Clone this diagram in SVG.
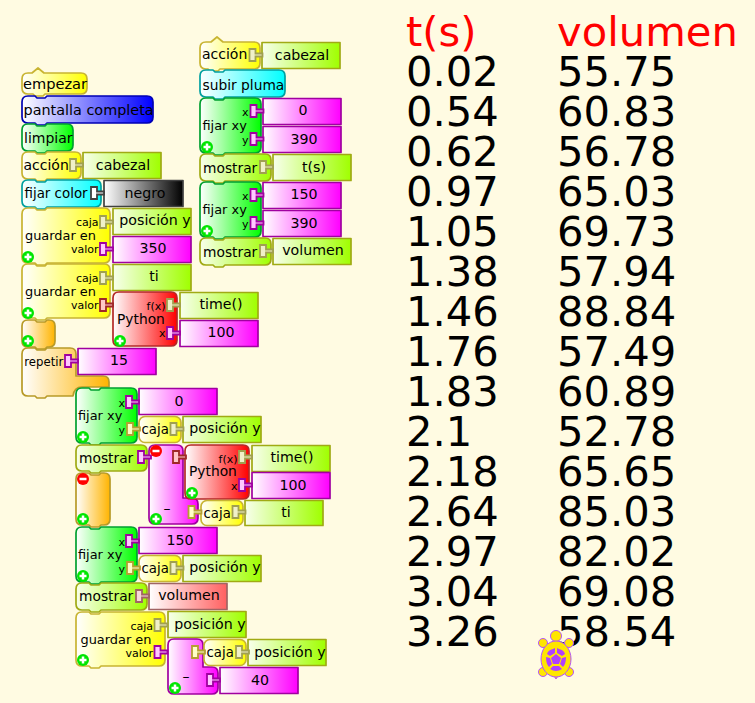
<svg xmlns="http://www.w3.org/2000/svg" width="755" height="703" viewBox="0 0 755 703">
<style>
text{font-family:"DejaVu Sans",sans-serif;fill:#000}
.t{font-size:14px}.m{font-size:13.8px}.g{font-size:12.9px}.v{font-size:14.2px;text-anchor:middle}.s{font-size:11px;text-anchor:end}
.big{font-size:41.700px}.red{fill:#ff0000}
.b{stroke-width:1.700;stroke-linejoin:round}
.yel{fill:url(#yel);stroke:#c8b432}.blu{fill:url(#blu);stroke:#0000b4}.grn{fill:url(#grn);stroke:#00a030}
.cya{fill:url(#cya);stroke:#00a0a0}.org{fill:url(#org);stroke:#b89a28}.mag{fill:url(#mag);stroke:#a000a0}
.lim{fill:url(#lim);stroke:#a0aa14}.rd{fill:url(#rd);stroke:#b42828}.sal{fill:url(#sal);stroke:#a06464}
.blk{fill:url(#blk);stroke:#404040}
.d{stroke-width:1.800}.dl{fill:#f0f0c8;stroke:#a0a050}.dm{fill:#ffc8ff;stroke:#a000a0}.dr{fill:#ffc8c8;stroke:#a02828}.dk{fill:#fff;stroke:#404040}.ds{fill:#f8d8d8;stroke:#a06464}.dc{fill:#ffffc8;stroke:#b4a032}
</style>
<defs>
<linearGradient id="yel"><stop offset="0" stop-color="#fff"/><stop offset="1" stop-color="#ff0"/></linearGradient>
<linearGradient id="blu"><stop offset="0" stop-color="#fff"/><stop offset="1" stop-color="#00f"/></linearGradient>
<linearGradient id="grn"><stop offset="0" stop-color="#fff"/><stop offset="1" stop-color="#0f0"/></linearGradient>
<linearGradient id="cya"><stop offset="0" stop-color="#fff"/><stop offset="1" stop-color="#0ff"/></linearGradient>
<linearGradient id="org"><stop offset="0" stop-color="#fff"/><stop offset="1" stop-color="#ffb400"/></linearGradient>
<linearGradient id="mag"><stop offset="0" stop-color="#fff"/><stop offset="1" stop-color="#f0f"/></linearGradient>
<linearGradient id="lim"><stop offset="0" stop-color="#f8ffec"/><stop offset="1" stop-color="#a0ff00"/></linearGradient>
<linearGradient id="rd"><stop offset="0" stop-color="#fff"/><stop offset="1" stop-color="#f00"/></linearGradient>
<linearGradient id="sal"><stop offset="0" stop-color="#fff"/><stop offset="1" stop-color="#ff6060"/></linearGradient>
<linearGradient id="blk"><stop offset="0" stop-color="#fff"/><stop offset="1" stop-color="#000"/></linearGradient>
<g id="plus"><circle r="6" fill="#00e600"/><path d="M-3.500 0h7M0-3.500v7" stroke="#fff" stroke-width="2.500"/></g>
<g id="minus"><circle r="6" fill="#f00"/><path d="M-3.500 0h7" stroke="#fff" stroke-width="2.500"/></g>
<path id="dock" d="M0-6h6v4.500h7v3h-7v4.500h-6z"/>
</defs>
<rect width="755" height="703" fill="#fffbe2"/>

<g id="n-empezar"><path class="b yel" d="M22 79q0-6 6-6h4l6-5 6 5h37q6 0 6 6v9q0 6-6 6h-36l-2 2h-8l-2-2h-5q-6 0-6-6z"/><text class="t" x="23" y="89" font-size="14.600" style="font-size:14.600px">empezar</text></g>
<g id="n-pantalla"><path class="b blu" d="M22 102q0-6 6-6h7l2 2h8l2-2h100q6 0 6 6v15q0 6-6 6h-100l-2 2h-8l-2-2h-7q-6 0-6-6z"/><text class="t" x="23.500" y="115" style="font-size:14.400px">pantalla completa</text></g>
<g id="n-limpiar"><path class="b grn" d="M22 130q0-6 6-6h7l2 2h8l2-2h20q6 0 6 6v15q0 6-6 6h-20l-2 2h-8l-2-2h-7q-6 0-6-6z"/><text class="t" x="24" y="143">limpiar</text></g>
<g id="n-accion1"><path class="b yel" d="M22 158q0-6 6-6h7l2 2h8l2-2h28q6 0 6 6v15q0 6-6 6h-28l-2 2h-8l-2-2h-7q-6 0-6-6z"/><text class="t" x="23.500" y="170">acción</text></g>
<g id="n-cabezal1"><rect class="b lim" x="83" y="152.500" width="78" height="26"/><text class="v" x="123" y="170">cabezal</text></g>
<g id="n-fijarcolor"><path class="b cya" d="M22 186q0-6 6-6h7l2 2h8l2-2h48q6 0 6 6v15q0 6-6 6h-48l-2 2h-8l-2-2h-7q-6 0-6-6z"/><text class="t" x="24.500" y="198" style="font-size:13.400px">fijar color</text></g>
<g id="n-negro"><rect class="b blk" x="104" y="180.500" width="79" height="26"/><text class="v" x="145" y="198">negro</text></g>
<g id="n-guardar1"><path class="b yel" d="M22 214q0-6 6-6h7l2 2h8l2-2h57q6 0 6 6v43q0 6-6 6h-57l-2 2h-8l-2-2h-7q-6 0-6-6z"/><text class="g" x="25" y="240">guardar en</text><text class="s" x="98.500" y="226">caja</text><text class="s" x="98.500" y="253">valor</text></g>
<g id="n-posy1"><rect class="b lim" x="113" y="208.500" width="78" height="26"/><text class="v" x="155" y="225">posición y</text></g>
<g id="n-350"><rect class="b mag" x="113" y="236.500" width="78" height="26"/><text class="v" x="153" y="253">350</text></g>
<g id="n-guardar2"><path class="b yel" d="M22 270q0-6 6-6h7l2 2h8l2-2h57q6 0 6 6v42q0 6-6 6h-57l-2 2h-8l-2-2h-7q-6 0-6-6z"/><text class="g" x="25" y="296">guardar en</text><text class="s" x="98.500" y="282">caja</text><text class="s" x="98.500" y="309">valor</text></g>
<g id="n-ti1"><rect class="b lim" x="113" y="264.500" width="78" height="26"/><text class="v" x="154" y="281">ti</text></g>
<g id="n-python1"><path class="b rd" d="M113 298q0-6 6-6h52q6 0 6 6v42q0 6-6 6h-52q-6 0-6-6z"/><text class="m" x="117" y="324">Python</text><text class="s" x="165.500" y="310">f(x)</text><text class="s" x="165.500" y="337">x</text></g>
<g id="n-time1"><rect class="b lim" x="180" y="292.500" width="78" height="26"/><text class="v" x="221" y="309">time()</text></g>
<g id="n-100a"><rect class="b mag" x="180" y="320.500" width="78" height="26"/><text class="v" x="221" y="337">100</text></g>
<g id="n-orange1"><path class="b org" d="M22 326q0-6 6-6h7l2 2h8l2-2h2q6 0 6 6v15q0 6-6 6h-2l-2 2h-8l-2-2h-7q-6 0-6-6z"/></g>
<g id="n-repetir"><path class="b org" d="M22 354q0-6 6-6h7l2 2h8l2-2h23q6 0 6 6v22h27q6 0 6 6v5H82q-8 0-9 9H47l-2 2h-8l-2-2h-7q-6 0-6-6z"/><text x="24.300" y="366" font-size="11.700">repetir</text></g>
<g id="n-15"><rect class="b mag" x="78" y="348.500" width="78" height="26"/><text class="v" x="119" y="365">15</text></g>
<g id="n-fijar1"><path class="b grn" d="M76 394q0-6 6-6h7l2 2h8l2-2h30q6 0 6 6v43q0 6-6 6h-30l-2 2h-8l-2-2h-7q-6 0-6-6z"/><text class="g" x="78" y="420">fijar xy</text><text class="s" x="125" y="407">x</text><text class="s" x="125" y="434">y</text></g>
<g id="n-0a"><rect class="b mag" x="139" y="388.500" width="78" height="26"/><text class="v" x="179" y="406">0</text></g>
<g id="n-caja1"><rect class="b yel" x="139" y="416.500" width="42" height="26" rx="6"/><text x="141.500" y="434" font-size="13.300">caja</text></g>
<g id="n-posy2"><rect class="b lim" x="183" y="416.500" width="78" height="26"/><text class="v" x="225" y="433">posición y</text></g>
<g id="n-mostrar1"><path class="b lim" d="M76 451q0-6 6-6h59q6 0 6 6v14q0 6-6 6h-40l-2 2h-8l-2-2h-7q-6 0-6-6z"/><text class="m" x="79" y="463">mostrar</text></g>
<g id="n-resta1"><path class="b mag" d="M149 451q0-6 6-6h22q6 0 6 6v47h9q6 0 6 6v14q0 6-6 6h-37q-6 0-6-6z"/><text class="t" x="167" y="513" text-anchor="middle">–</text></g>
<g id="n-python2"><path class="b rd" d="M185 451q0-6 6-6h52q6 0 6 6v42q0 6-6 6h-52q-6 0-6-6z"/><text class="m" x="189" y="476">Python</text><text class="s" x="237.500" y="463">f(x)</text><text class="s" x="237.500" y="490">x</text></g>
<g id="n-time2"><rect class="b lim" x="252" y="445.500" width="78" height="26"/><text class="v" x="292" y="462">time()</text></g>
<g id="n-100b"><rect class="b mag" x="252" y="472.500" width="78" height="26"/><text class="v" x="293" y="490">100</text></g>
<g id="n-caja2"><rect class="b yel" x="201" y="500.500" width="42" height="25" rx="6"/><text x="203.500" y="518" font-size="13.300">caja</text></g>
<g id="n-ti2"><rect class="b lim" x="245" y="500.500" width="78" height="25"/><text class="v" x="286" y="517">ti</text></g>
<g id="n-orange2"><path class="b org" d="M76 479q0-6 6-6h7l2 2h8l2-2h3q6 0 6 6v40q0 6-6 6h-3l-2 2h-8l-2-2h-7q-6 0-6-6z"/></g>
<g id="n-fijar2"><path class="b grn" d="M76 533q0-6 6-6h7l2 2h8l2-2h30q6 0 6 6v43q0 6-6 6h-30l-2 2h-8l-2-2h-7q-6 0-6-6z"/><text class="g" x="78" y="559">fijar xy</text><text class="s" x="125" y="546">x</text><text class="s" x="125" y="573">y</text></g>
<g id="n-150a"><rect class="b mag" x="139" y="527.500" width="78" height="26"/><text class="v" x="180" y="545">150</text></g>
<g id="n-caja3"><rect class="b yel" x="139" y="555.500" width="42" height="26" rx="6"/><text x="141.500" y="573" font-size="13.300">caja</text></g>
<g id="n-posy3"><rect class="b lim" x="183" y="555.500" width="78" height="26"/><text class="v" x="225" y="572">posición y</text></g>
<g id="n-mostrar2"><path class="b lim" d="M76 589q0-6 6-6h7l2 2h8l2-2h40q6 0 6 6v15q0 6-6 6h-40l-2 2h-8l-2-2h-7q-6 0-6-6z"/><text class="m" x="79" y="601">mostrar</text></g>
<g id="n-volumen1"><rect class="b sal" x="149" y="583.500" width="78" height="26"/><text class="v" x="189" y="600">volumen</text></g>
<g id="n-guardar3"><path class="b yel" d="M76 618q0-6 6-6h7l2 2h8l2-2h58q6 0 6 6v42q0 6-6 6h-58l-2 2h-8l-2-2h-7q-6 0-6-6z"/><text class="g" x="80.500" y="644">guardar en</text><text class="s" x="153" y="630">caja</text><text class="s" x="153" y="657">valor</text></g>
<g id="n-posy4"><rect class="b lim" x="168" y="611.500" width="78" height="26"/><text class="v" x="210" y="629">posición y</text></g>
<g id="n-resta2"><path class="b mag" d="M168 645q0-6 6-6h23q6 0 6 6v22h9q6 0 6 6v15q0 6-6 6h-38q-6 0-6-6z"/><text class="t" x="186" y="681" text-anchor="middle">–</text></g>
<g id="n-caja4"><rect class="b yel" x="204" y="639.500" width="42" height="26" rx="6"/><text x="206.500" y="657" font-size="13.300">caja</text></g>
<g id="n-posy5"><rect class="b lim" x="248" y="639.500" width="78" height="26"/><text class="v" x="290" y="657">posición y</text></g>
<g id="n-40"><rect class="b mag" x="220" y="667.500" width="78" height="26"/><text class="v" x="260" y="685">40</text></g>

<g id="n-accion2"><path class="b yel" d="M200 48q0-6 6-6h5l6-5 6 5h31q6 0 6 6v15q0 6-6 6h-34l-2 2h-8l-2-2h-2q-6 0-6-6z"/><text class="t" x="202" y="59">acción</text></g>
<g id="n-cabezal2"><rect class="b lim" x="262" y="42.500" width="78" height="26"/><text class="v" x="302" y="60">cabezal</text></g>
<g id="n-subir"><path class="b cya" d="M200 76q0-6 6-6h7l2 2h8l2-2h54q6 0 6 6v15q0 6-6 6h-54l-2 2h-8l-2-2h-7q-6 0-6-6z"/><text class="m" x="202.500" y="90">subir pluma</text></g>
<g id="n-fijar3"><path class="b grn" d="M200 104q0-6 6-6h7l2 2h8l2-2h30q6 0 6 6v43q0 6-6 6h-30l-2 2h-8l-2-2h-7q-6 0-6-6z"/><text class="g" x="202.500" y="130">fijar xy</text><text class="s" x="248.500" y="116">x</text><text class="s" x="248.500" y="144">y</text></g>
<g id="n-0b"><rect class="b mag" x="263" y="98.500" width="78" height="26"/><text class="v" x="303" y="115">0</text></g>
<g id="n-390a"><rect class="b mag" x="263" y="126.500" width="78" height="26"/><text class="v" x="304" y="144">390</text></g>
<g id="n-mostrar3"><path class="b lim" d="M200 160q0-6 6-6h7l2 2h8l2-2h40q6 0 6 6v15q0 6-6 6h-40l-2 2h-8l-2-2h-7q-6 0-6-6z"/><text class="m" x="203" y="173">mostrar</text></g>
<g id="n-ts"><rect class="b lim" x="273" y="154.500" width="78" height="26"/><text class="v" x="314" y="172">t(s)</text></g>
<g id="n-fijar4"><path class="b grn" d="M200 188q0-6 6-6h7l2 2h8l2-2h30q6 0 6 6v43q0 6-6 6h-30l-2 2h-8l-2-2h-7q-6 0-6-6z"/><text class="g" x="202.500" y="214">fijar xy</text><text class="s" x="248.500" y="200">x</text><text class="s" x="248.500" y="228">y</text></g>
<g id="n-150b"><rect class="b mag" x="263" y="182.500" width="78" height="26"/><text class="v" x="304" y="199">150</text></g>
<g id="n-390b"><rect class="b mag" x="263" y="210.500" width="78" height="26"/><text class="v" x="304" y="228">390</text></g>
<g id="n-mostrar4"><path class="b lim" d="M200 244q0-6 6-6h7l2 2h8l2-2h40q6 0 6 6v15q0 6-6 6h-40l-2 2h-8l-2-2h-7q-6 0-6-6z"/><text class="m" x="203" y="257">mostrar</text></g>
<g id="n-volumen2"><rect class="b lim" x="273" y="238.500" width="78" height="26"/><text class="v" x="313" y="255">volumen</text></g>

<g id="connectors">
<use href="#dock" class="d dl" x="70" y="165"/>
<use href="#dock" class="d dk" x="91" y="193"/>
<use href="#dock" class="d dl" x="100" y="222"/>
<use href="#dock" class="d dm" x="100" y="249"/>
<use href="#dock" class="d dl" x="100" y="278"/>
<use href="#dock" class="d dr" x="100" y="305"/>
<use href="#dock" class="d dl" x="167" y="305"/>
<use href="#dock" class="d dm" x="167" y="333"/>
<use href="#dock" class="d dm" x="65" y="361"/>
<use href="#dock" class="d dm" x="126" y="402"/>
<use href="#dock" class="d dc" x="127" y="429"/>
<use href="#dock" class="d dl" x="170.500" y="429"/>
<use href="#dock" class="d dm" x="138" y="457"/>
<use href="#dock" class="d dr" x="173" y="457"/>
<use href="#dock" class="d dl" x="239" y="457"/>
<use href="#dock" class="d dm" x="239" y="485"/>
<use href="#dock" class="d dc" x="188.500" y="512"/>
<use href="#dock" class="d dl" x="232.500" y="512"/>
<use href="#dock" class="d dm" x="126" y="541"/>
<use href="#dock" class="d dc" x="127" y="568"/>
<use href="#dock" class="d dl" x="170.500" y="568"/>
<use href="#dock" class="d ds" x="136" y="596"/>
<use href="#dock" class="d dl" x="154.500" y="625"/>
<use href="#dock" class="d dm" x="154.500" y="652"/>
<use href="#dock" class="d dc" x="192" y="652"/>
<use href="#dock" class="d dl" x="236" y="652"/>
<use href="#dock" class="d dm" x="207" y="680"/>
<use href="#dock" class="d dl" x="249.500" y="55"/>
<use href="#dock" class="d dm" x="250.500" y="111"/>
<use href="#dock" class="d dm" x="250.500" y="139"/>
<use href="#dock" class="d dl" x="260" y="167"/>
<use href="#dock" class="d dm" x="250.500" y="195"/>
<use href="#dock" class="d dm" x="250.500" y="223"/>
<use href="#dock" class="d dl" x="260" y="251"/>
</g>

<g id="icons">
<use href="#plus" x="28" y="257"/><use href="#plus" x="28" y="313"/><use href="#plus" x="28" y="341"/><use href="#plus" x="120" y="341"/>
<use href="#plus" x="207" y="147"/><use href="#plus" x="207" y="231"/><use href="#plus" x="83" y="437"/><use href="#plus" x="83" y="519"/>
<use href="#minus" x="83" y="479"/><use href="#minus" x="156" y="451"/><use href="#plus" x="156" y="519"/><use href="#plus" x="192" y="493"/>
<use href="#plus" x="83" y="576"/><use href="#plus" x="83" y="660"/><use href="#plus" x="175" y="688"/>
</g>

<g id="table">
<text class="big red" x="406" y="46">t(s)</text><text class="big red" x="557" y="46">volumen</text>
<text class="big" x="406" y="86">0.02</text><text class="big" x="557" y="86">55.75</text>
<text class="big" x="406" y="126">0.54</text><text class="big" x="557" y="126">60.83</text>
<text class="big" x="406" y="166">0.62</text><text class="big" x="557" y="166">56.78</text>
<text class="big" x="406" y="206">0.97</text><text class="big" x="557" y="206">65.03</text>
<text class="big" x="406" y="246">1.05</text><text class="big" x="557" y="246">69.73</text>
<text class="big" x="406" y="286">1.38</text><text class="big" x="557" y="286">57.94</text>
<text class="big" x="406" y="326">1.46</text><text class="big" x="557" y="326">88.84</text>
<text class="big" x="406" y="366">1.76</text><text class="big" x="557" y="366">57.49</text>
<text class="big" x="406" y="406">1.83</text><text class="big" x="557" y="406">60.89</text>
<text class="big" x="406" y="446">2.1</text><text class="big" x="557" y="446">52.78</text>
<text class="big" x="406" y="486">2.18</text><text class="big" x="557" y="486">65.65</text>
<text class="big" x="406" y="526">2.64</text><text class="big" x="557" y="526">85.03</text>
<text class="big" x="406" y="566">2.97</text><text class="big" x="557" y="566">82.02</text>
<text class="big" x="406" y="606">3.04</text><text class="big" x="557" y="606">69.08</text>
<text class="big" x="406" y="646">3.26</text><text class="big" x="557" y="646">58.54</text>
</g>

<g id="turtle" fill="#ffe600" stroke="#b450ff" stroke-width="1">
<circle cx="556" cy="636" r="5.500"/>
<circle cx="543" cy="643" r="4.500"/><circle cx="569" cy="643" r="4.500"/>
<circle cx="543" cy="672" r="4.500"/><circle cx="569" cy="672" r="4.500"/>
<path d="M554 676l2 3 2-3z"/>
<ellipse cx="556" cy="659" rx="15" ry="18"/>
<path fill="#b040ff" stroke="none" d="M556 654l5 4-2 6h-6l-2-6zM553 649l2-1v5l-5 3-3-2q1-4 6-5zM559 649l-2-1v5l5 3 3-2q-1-4-6-5zM546 657l4 1 2 6-3 3q-3-3-3-10zM566 657l-4 1-2 6 3 3q3-3 3-10zM553 666h6l3 3q-6 4-12 0z"/>
</g>
</svg>
